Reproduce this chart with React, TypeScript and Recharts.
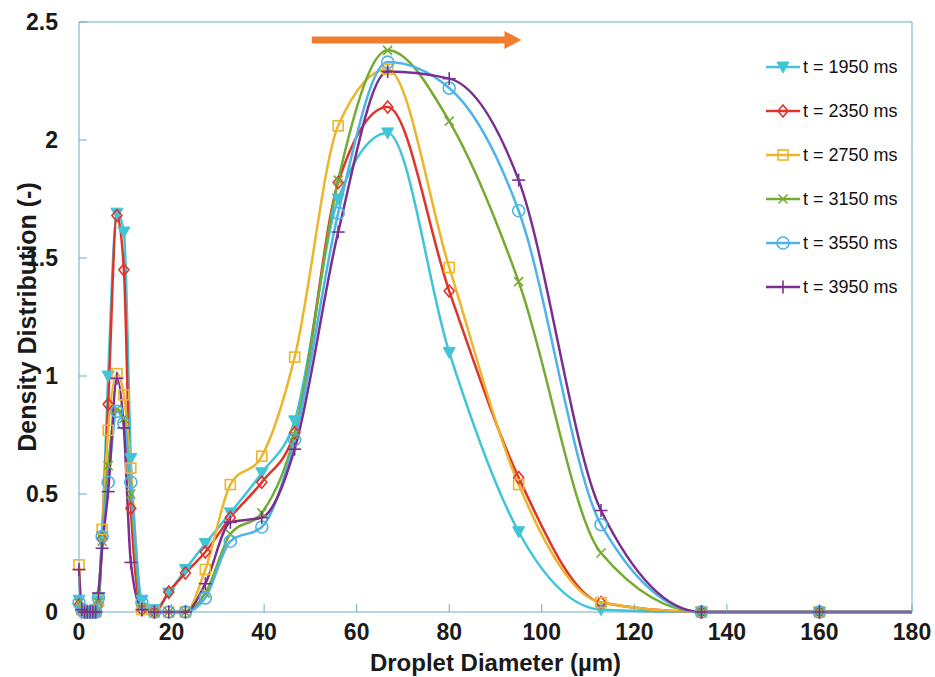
import { LineChart, Line, XAxis, YAxis, Legend, ReferenceLine } from "recharts";

// droplet diameter bins (µm)
const diameters = [0, 0.6, 1.2, 1.8, 2.4, 3.0, 3.6, 4.2, 5.0, 6.3, 8.2, 9.7, 11.2, 13.6, 16.3, 19.4, 23.0, 27.3, 32.7, 39.5, 46.6, 56.0, 66.7, 80.0, 95.0, 112.8, 134.5, 160.0, 180.0];

const t1950 = [0.05, 0.01, 0, 0, 0, 0, 0.01, 0.06, 0.32, 1.0, 1.69, 1.61, 0.65, 0.05, 0.01, 0.08, 0.18, 0.29, 0.42, 0.59, 0.81, 1.75, 2.03, 1.1, 0.34, 0.01, 0, 0, 0];
const t2350 = [0.03, 0, 0, 0, 0, 0, 0, 0.03, 0.31, 0.88, 1.68, 1.45, 0.44, 0.01, 0, 0.085, 0.165, 0.254, 0.4, 0.55, 0.76, 1.82, 2.14, 1.36, 0.57, 0.04, 0, 0, 0];
const t2750 = [0.2, 0.01, 0, 0, 0, 0, 0, 0.05, 0.35, 0.77, 1.01, 0.92, 0.61, 0.01, 0, 0, 0, 0.18, 0.54, 0.66, 1.08, 2.06, 2.3, 1.46, 0.54, 0.04, 0, 0, 0];
const t3150 = [0.04, 0.01, 0, 0, 0, 0, 0, 0.04, 0.3, 0.62, 0.86, 0.82, 0.5, 0.02, 0, 0, 0, 0.08, 0.33, 0.42, 0.75, 1.83, 2.38, 2.08, 1.4, 0.25, 0, 0, 0];
const t3550 = [0.04, 0.01, 0, 0, 0, 0, 0, 0.06, 0.32, 0.55, 0.85, 0.8, 0.55, 0.04, 0, 0, 0, 0.06, 0.3, 0.36, 0.73, 1.69, 2.33, 2.22, 1.7, 0.37, 0, 0, 0];
const t3950 = [0.18, 0.01, 0, 0, 0, 0, 0, 0.08, 0.27, 0.51, 0.99, 0.78, 0.21, 0.01, 0, 0, 0, 0.12, 0.38, 0.4, 0.69, 1.61, 2.29, 2.26, 1.83, 0.43, 0, 0, 0];

const xTicks = [0, 20, 40, 60, 80, 100, 120, 140, 160, 180];
const yTicks = [0, 0.5, 1, 1.5, 2, 2.5];

const series = [
  { key: "t1950", name: "t = 1950 ms", color: "#3fc5d6", marker: "tri" },
  { key: "t2350", name: "t = 2350 ms", color: "#e0332a", marker: "diamond" },
  { key: "t2750", name: "t = 2750 ms", color: "#ecb52a", marker: "square" },
  { key: "t3150", name: "t = 3150 ms", color: "#74ab32", marker: "cross" },
  { key: "t3550", name: "t = 3550 ms", color: "#4db3e8", marker: "circle" },
  { key: "t3950", name: "t = 3950 ms", color: "#7b2f8e", marker: "plus" },
];

const data = diameters.map((d, i) => ({
  d,
  t1950: t1950[i],
  t2350: t2350[i],
  t2750: t2750[i],
  t3150: t3150[i],
  t3550: t3550[i],
  t3950: t3950[i],
}));

const AXIS = "#6fa9c6";
const FONT = "'Liberation Sans', Arial, sans-serif";

const Marker = ({ shape, cx, cy, color }: any) => {
  const s = 6;
  const p = { stroke: color, strokeWidth: 1.6, fill: "none" };
  if (shape === "tri")
    return <polygon points={`${cx - s},${cy - s + 1} ${cx + s},${cy - s + 1} ${cx},${cy + s}`} fill={color} stroke={color} />;
  if (shape === "diamond")
    return <polygon points={`${cx},${cy - s} ${cx + s - 1},${cy} ${cx},${cy + s} ${cx - s + 1},${cy}`} {...p} />;
  if (shape === "square") return <rect x={cx - 5} y={cy - 5} width={10} height={10} {...p} />;
  if (shape === "circle") return <circle cx={cx} cy={cy} r={s} {...p} />;
  if (shape === "cross")
    return (
      <g {...p}>
        <line x1={cx - 4.5} y1={cy - 4.5} x2={cx + 4.5} y2={cy + 4.5} />
        <line x1={cx - 4.5} y1={cy + 4.5} x2={cx + 4.5} y2={cy - 4.5} />
      </g>
    );
  return (
    <g {...p}>
      <line x1={cx - 6.5} y1={cy} x2={cx + 6.5} y2={cy} />
      <line x1={cx} y1={cy - 6.5} x2={cx} y2={cy + 6.5} />
    </g>
  );
};

const makeDot = (shape: string, color: string) => (props: any) => {
  const { cx, cy, payload, index } = props;
  if (payload.d > 170 || cx == null) return <g key={`e-${index}`} />;
  return (
    <g key={`m-${index}`}>
      <Marker shape={shape} cx={cx} cy={cy} color={color} />
    </g>
  );
};

const LegendBox = () => (
  <div style={{ fontFamily: FONT, fontSize: 18, color: "#111" }}>
    {series.map((s) => (
      <div key={s.key} style={{ height: 44, display: "flex", alignItems: "center" }}>
        <svg width={38} height={20}>
          <line x1={2} y1={10} x2={36} y2={10} stroke={s.color} strokeWidth={2.5} />
          <Marker shape={s.marker} cx={19} cy={10} color={s.color} />
        </svg>
        <span style={{ marginLeft: 1 }}>{s.name}</span>
      </div>
    ))}
  </div>
);

const renderArrow = (p: any) => {
  const { x1, y1, x2 } = p;
  const head = 17;
  return (
    <g>
      <line x1={x1} y1={y1} x2={x2 - head + 1} y2={y1} stroke="#ef7d2e" strokeWidth={7} />
      <polygon points={`${x2 - head},${y1 - 9} ${x2},${y1} ${x2 - head},${y1 + 9}`} fill="#ef7d2e" />
    </g>
  );
};

const XTitle = ({ viewBox }: any) => (
  <text x={viewBox.x + viewBox.width / 2} y={viewBox.y + 50} textAnchor="middle" dominantBaseline="central"
    style={{ fontFamily: FONT, fontWeight: 700, fontSize: 24, fill: "#1a1a1a" }}>
    Droplet Diameter (µm)
  </text>
);

const YTitle = ({ viewBox }: any) => {
  const cx = 27;
  const cy = viewBox.y + viewBox.height / 2;
  return (
    <text x={cx} y={cy} textAnchor="middle" dominantBaseline="central" transform={`rotate(-90, ${cx}, ${cy})`}
      style={{ fontFamily: FONT, fontWeight: 700, fontSize: 25, fill: "#1a1a1a" }}>
      Density Distribution (-)
    </text>
  );
};

const tickStyle = { fontFamily: FONT, fontWeight: 700, fontSize: 23, fill: "#1a1a1a" };

export default function App() {
  return (
    <div style={{ position: "absolute", left: 0, top: 0, width: 935, height: 677, background: "#fff" }}>
      <LineChart width={935} height={677} data={data} margin={{ top: 21, right: 22, bottom: 0, left: 0 }}>
        <XAxis dataKey="d" type="number" domain={[0, 180]} ticks={xTicks} interval={0}
          height={65} tickSize={-8} tickMargin={20} stroke={AXIS} tick={tickStyle}
          label={{ content: XTitle }} />
        <XAxis xAxisId="top" orientation="top" dataKey="d" type="number" domain={[0, 180]} ticks={xTicks}
          interval={0} height={1} tickSize={-8} stroke={AXIS} tick={false} />
        <YAxis type="number" domain={[0, 2.5]} ticks={yTicks} interval={0} width={79}
          tickSize={-8} tickMargin={29} stroke={AXIS} tick={tickStyle} label={{ content: YTitle }} />
        <YAxis yAxisId="right" orientation="right" type="number" domain={[0, 2.5]} ticks={yTicks}
          interval={0} width={1} tickSize={-8} stroke={AXIS} tick={false} />
        <ReferenceLine segment={[{ x: 50.3, y: 2.424 }, { x: 95.6, y: 2.424 }]} shape={renderArrow} ifOverflow="visible" />
        {series.map((s) => (
          <Line key={s.key} type="monotone" dataKey={s.key} name={s.name} stroke={s.color} strokeWidth={2.5}
            dot={makeDot(s.marker, s.color)} activeDot={false} isAnimationActive={false} />
        ))}
        <Legend layout="vertical" verticalAlign="middle" align="center" content={LegendBox}
          wrapperStyle={{ position: "absolute", left: 764, top: 45, width: 150 }} />
      </LineChart>
    </div>
  );
}
